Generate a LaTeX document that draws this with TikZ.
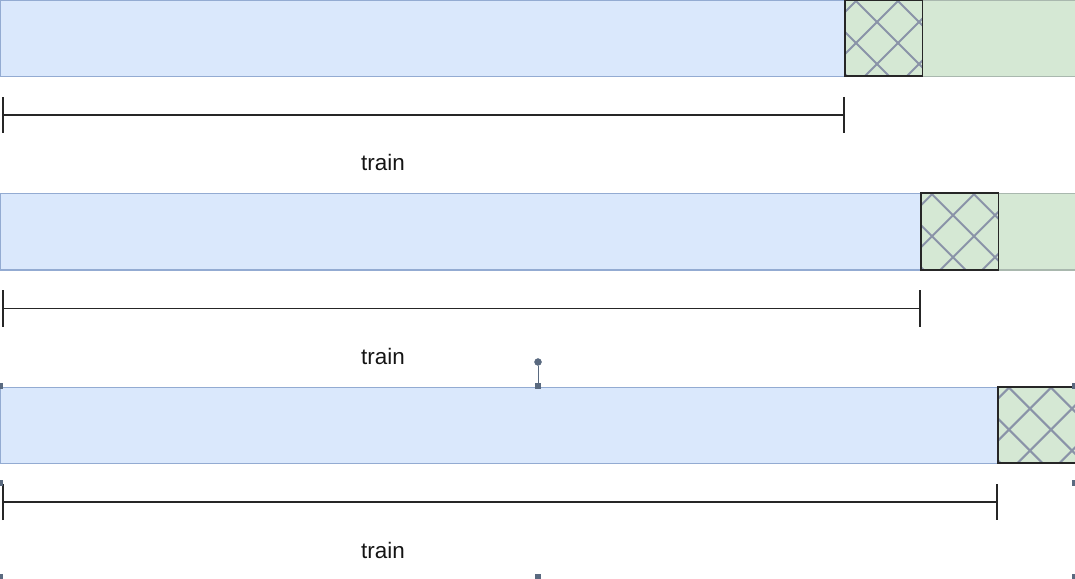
\documentclass[tikz,border=0pt]{standalone}
\usepackage{fontspec}
\setmainfont{Liberation Sans}
\usetikzlibrary{arrows.meta}
\definecolor{barblue}{HTML}{DAE8FC}
\definecolor{barblueline}{HTML}{93ABD2}
\definecolor{bargreen}{HTML}{D5E8D4}
\definecolor{bargreenline}{HTML}{A9B8AE}
\definecolor{hatchgray}{HTML}{8A93A8}
\definecolor{handlegray}{HTML}{5A6A80}
\begin{document}
\begin{tikzpicture}[x=1bp,y=-1bp]

    \tikzset{
      trainbar/.style={
        draw=barblueline,
        fill=barblue,
        line width=1.2bp,
        inner sep=0pt,
        anchor=north west,
        minimum height=76bp,
      },
      testbar/.style={
        draw=bargreenline,
        fill=bargreen,
        line width=1.2bp,
        inner sep=0pt,
        anchor=north west,
        minimum height=76bp,
      },
      valbox/.style={
        fill=bargreen,
        inner sep=0pt,
        anchor=north west,
        minimum width=77bp,
        minimum height=76bp,
      },
      span/.style={line width=1.7bp, color=black!85,
        {Bar[width=36bp,line width=2.2bp]}-{Bar[width=36bp,line width=2.2bp]}},
      spanlabel/.style={font=\fontsize{22.5}{26}\selectfont, text=black!92},
      hatch/.style={hatchgray, line width=2bp},
      selhandle/.style={fill=handlegray, inner sep=0pt, minimum size=6bp},
    }
    \useasboundingbox (0,0) rectangle (1075,579);

    % three folds: train | validation | rest
    \foreach \i/\s/\g in {0/845/153,1/921/77,2/998/0}{
      \pgfmathsetmacro\top{193.3*\i}
      \pgfmathsetmacro\ybr{115+193.5*\i}
      \pgfmathsetmacro\ylab{162+194*\i}
      \node[trainbar, minimum width=\s bp] (train\i) at (0,\top) {};
      \ifnum\i<2
        \node[testbar, minimum width=\g bp] (rest\i) at (\s+77,\top) {};
      \fi
      \node[valbox] (val\i) at (\s,\top) {};
      \begin{scope}
        \clip (val\i.north west) rectangle (val\i.south east);
        \foreach \k in {-2,...,2}{
          \draw[hatch] (\s+32+42*\k-100,\top+22-100) -- ++(200,200);
          \draw[hatch] (\s+32+42*\k-100,\top+22+100) -- ++(200,-200);
        }
      \end{scope}
      \draw[line width=1.8bp, black!85] (val\i.north west) rectangle (val\i.south east);
      \coordinate (spanL\i) at (2,\ybr);
      \coordinate (spanR\i) at (\s,\ybr);
      \draw[span] (spanL\i) -- (spanR\i);
      \node[spanlabel] (lab\i) at (383,\ylab) {train};
    }

    % selection handles round the last fold
    \node[draw=handlegray, fill=handlegray, circle, inner sep=0pt, minimum size=7bp] (rot) at (538,362) {};
    \node[selhandle] (hn) at (538,386) {};
    \draw[handlegray, line width=1bp] (rot) -- (hn);
    \foreach \x/\y [count=\n] in {0/386,1075/386,0/483,1075/483,0/577,538/577,1075/577}
      \node[selhandle] (h\n) at (\x,\y) {};

\end{tikzpicture}
\end{document}
